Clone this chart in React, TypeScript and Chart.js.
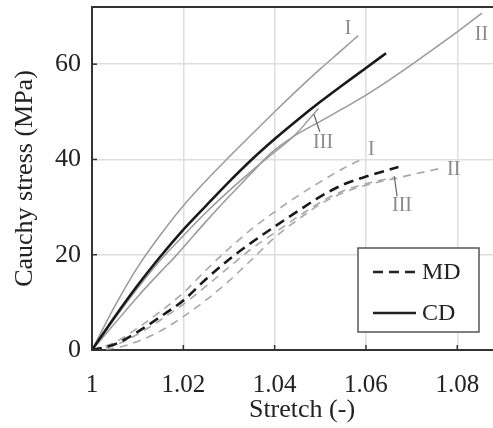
import React, { useEffect, useRef } from "react";
import { Chart, registerables } from "chart.js";

Chart.register(...registerables);

// ---- data (stretch, Cauchy stress MPa) ----
const cdMean = [[1,0],[1.005,7.0],[1.01,13.6],[1.0153,20],[1.0193,24.5],[1.025,30.3],[1.03,35.3],[1.035,40.0],[1.04,44.3],[1.045,48.3],[1.05,52.1],[1.0543,55.2],[1.06,59.2],[1.0644,62.3]];
const cdI = [[1,0],[1.005,9.2],[1.01,17.4],[1.015,24.2],[1.02,30.3],[1.025,35.6],[1.03,40.5],[1.035,45.3],[1.04,50.0],[1.045,54.6],[1.05,59.0],[1.055,63.2],[1.0583,66.0]];
const cdII = [[1,0],[1.005,5.6],[1.01,11.2],[1.015,16.4],[1.0182,19.6],[1.025,27.0],[1.03,32.2],[1.035,37.2],[1.039,41.2],[1.0441,44.8],[1.05,48.0],[1.055,50.7],[1.06,53.5],[1.065,56.6],[1.07,59.9],[1.075,63.3],[1.08,66.8],[1.0854,70.7]];
const cdIII = [[1,0],[1.005,6.6],[1.01,13.0],[1.015,18.9],[1.02,24.0],[1.025,28.9],[1.03,33.4],[1.035,37.6],[1.039,40.8],[1.0441,44.8],[1.0496,50.7]];
const mdMean = [[1,0],[1.005,1.2],[1.01,3.8],[1.015,7.0],[1.02,10.4],[1.025,14.9],[1.03,19.0],[1.035,22.6],[1.04,25.9],[1.045,29.1],[1.05,32.2],[1.055,34.7],[1.06,36.4],[1.0671,38.4]];
const mdI = [[1,0],[1.005,1.6],[1.01,4.6],[1.015,8.1],[1.02,12.0],[1.025,16.8],[1.03,21.3],[1.035,25.4],[1.04,29.0],[1.045,32.3],[1.05,35.3],[1.055,38.1],[1.0594,40.2]];
const mdII = [[1,0],[1.005,0.4],[1.01,1.8],[1.015,4.0],[1.02,7.0],[1.025,10.5],[1.03,14.5],[1.035,19.0],[1.04,23.6],[1.045,27.3],[1.05,30.6],[1.055,33.0],[1.06,34.6],[1.065,35.7],[1.07,36.8],[1.0762,38.1]];
const mdIII = [[1,0],[1.005,1.0],[1.01,3.3],[1.015,6.3],[1.02,9.6],[1.025,13.4],[1.03,17.4],[1.035,21.3],[1.04,24.6],[1.045,27.9],[1.05,31.0],[1.055,33.4],[1.06,34.9],[1.066,36.2]];

const xTicks = [1, 1.02, 1.04, 1.06, 1.08];
const yTicks = [0, 20, 40, 60];
const xMin = 1;
const xMax = 1.0922;
const yMin = 0;
const yMax = 72;

const xTitle = "Stretch (-)";
const yTitle = "Cauchy stress (MPa)";
const legendItems = [
  { label: "MD", dashed: true },
  { label: "CD", dashed: false },
];
// curve labels (data coordinates)
const curveLabels = [
  { text: "I", x: 1.0561, y: 67.5 },
  { text: "II", x: 1.0853, y: 66.2 },
  { text: "III", x: 1.0506, y: 43.5 },
  { text: "I", x: 1.0612, y: 42.1 },
  { text: "II", x: 1.0792, y: 37.9 },
  { text: "III", x: 1.0679, y: 30.2 },
];
const leaderLines = [
  [[1.0486, 49.5], [1.0499, 45.8]],
  [[1.0662, 36.5], [1.0668, 32.3]],
];

const FONT = "'Liberation Serif', 'Times New Roman', serif";
const DARK = "#222";
const GRAY = "#9a9a9a";

const toPts = (a: number[][]) => a.map(([x, y]) => ({ x, y }));

const overlayPlugin = {
  id: "overlay",
  afterDraw(chart: any) {
    const { ctx, chartArea: ca, scales } = chart;
    const xs = scales.x;
    const ys = scales.y;
    ctx.save();
    // top border
    ctx.strokeStyle = "#333";
    ctx.lineWidth = 2;
    ctx.beginPath();
    ctx.moveTo(ca.left - 1, ca.top);
    ctx.lineTo(ca.right, ca.top);
    ctx.stroke();
    // inward tick marks
    ctx.lineWidth = 1.5;
    xTicks.forEach((v) => {
      const px = xs.getPixelForValue(v);
      ctx.beginPath();
      ctx.moveTo(px, ca.bottom);
      ctx.lineTo(px, ca.bottom - 5);
      ctx.stroke();
    });
    yTicks.forEach((v) => {
      const py = ys.getPixelForValue(v);
      ctx.beginPath();
      ctx.moveTo(ca.left, py);
      ctx.lineTo(ca.left + 5, py);
      ctx.stroke();
    });
    // curve labels
    ctx.fillStyle = "#8a8a8a";
    ctx.font = `20px ${FONT}`;
    ctx.textAlign = "center";
    ctx.textBaseline = "middle";
    curveLabels.forEach((l) => {
      ctx.fillText(l.text, xs.getPixelForValue(l.x), ys.getPixelForValue(l.y));
    });
    ctx.strokeStyle = "#666";
    ctx.lineWidth = 1.2;
    leaderLines.forEach(([a, b]) => {
      ctx.beginPath();
      ctx.moveTo(xs.getPixelForValue(a[0]), ys.getPixelForValue(a[1]));
      ctx.lineTo(xs.getPixelForValue(b[0]), ys.getPixelForValue(b[1]));
      ctx.stroke();
    });
    // legend box
    const lx = ca.left + 266;
    const ly = ca.top + 241;
    const lw = 121;
    const lh = 84;
    ctx.fillStyle = "#fff";
    ctx.fillRect(lx, ly, lw, lh);
    ctx.strokeStyle = "#555";
    ctx.lineWidth = 1.5;
    ctx.strokeRect(lx, ly, lw, lh);
    ctx.font = `24px ${FONT}`;
    ctx.textAlign = "left";
    ctx.textBaseline = "middle";
    legendItems.forEach((it, i) => {
      const cy = ly + 24 + i * 41;
      ctx.strokeStyle = DARK;
      ctx.lineWidth = 2.5;
      ctx.setLineDash(it.dashed ? [10, 6] : []);
      ctx.beginPath();
      ctx.moveTo(lx + 15, cy);
      ctx.lineTo(lx + 58, cy);
      ctx.stroke();
      ctx.setLineDash([]);
      ctx.fillStyle = DARK;
      ctx.fillText(it.label, lx + 64, cy + 1);
    });
    // axis titles
    ctx.fillStyle = DARK;
    ctx.font = `26px ${FONT}`;
    ctx.textAlign = "center";
    ctx.textBaseline = "middle";
    ctx.fillText(xTitle, 302, 410);
    ctx.translate(25, (ca.top + ca.bottom) / 2);
    ctx.rotate(-Math.PI / 2);
    ctx.fillText(yTitle, 0, 0);
    ctx.restore();
  },
};

export default function App() {
  const ref = useRef<HTMLCanvasElement | null>(null);
  useEffect(() => {
    if (!ref.current) return;
    const solid = (data: number[][], color: string, w: number) => ({
      data: toPts(data),
      borderColor: color,
      borderWidth: w,
      pointRadius: 0,
      fill: false,
      cubicInterpolationMode: "monotone" as const,
    });
    const dashed = (data: number[][], color: string, w: number, dash: number[]) => ({
      ...solid(data, color, w),
      borderDash: dash,
    });
    const chart = new Chart(ref.current, {
      type: "line",
      data: {
        datasets: [
          solid(cdMean, "#1a1a1a", 2.6),
          dashed(mdMean, "#1a1a1a", 2.6, [10, 6]),
          solid(cdI, GRAY, 1.5),
          solid(cdII, GRAY, 1.5),
          solid(cdIII, GRAY, 1.5),
          dashed(mdI, "#a8a8a8", 1.6, [8, 6]),
          dashed(mdII, "#a8a8a8", 1.6, [8, 6]),
          dashed(mdIII, "#a8a8a8", 1.6, [8, 6]),
        ],
      },
      options: {
        animation: false,
        responsive: true,
        maintainAspectRatio: false,
        devicePixelRatio: 1,
        layout: { padding: { top: 7, right: 0, left: 0, bottom: 0 } },
        plugins: { legend: { display: false }, tooltip: { enabled: false } },
        scales: {
          x: {
            type: "linear",
            min: xMin,
            max: xMax,
            afterBuildTicks: (s: any) => {
              s.ticks = xTicks.map((v) => ({ value: v }));
            },
            afterFit: (s: any) => {
              s.height = 78;
              s.paddingLeft = 0;
              s.paddingRight = 0;
              s.paddingTop = 0;
              s.paddingBottom = 0;
            },
            ticks: {
              padding: 20,
              color: DARK,
              font: { family: FONT, size: 25 },
              callback: (v: any) => (Number(v) === 1 ? "1" : Number(v).toFixed(2)),
            },
            grid: { color: "#dedede", lineWidth: 1.5, drawTicks: false },
            border: { color: "#333", width: 2 },
          },
          y: {
            type: "linear",
            min: yMin,
            max: yMax,
            afterBuildTicks: (s: any) => {
              s.ticks = yTicks.map((v) => ({ value: v }));
            },
            afterFit: (s: any) => {
              s.width = 92;
              s.paddingLeft = 0;
              s.paddingRight = 0;
              s.paddingTop = 0;
              s.paddingBottom = 0;
            },
            ticks: {
              padding: 11,
              color: DARK,
              font: { family: FONT, size: 26 },
            },
            grid: { color: "#dedede", lineWidth: 1.5, drawTicks: false },
            border: { color: "#333", width: 2 },
          },
        },
      },
      plugins: [overlayPlugin],
    });
    return () => chart.destroy();
  }, []);
  return (
    <div style={{ position: "fixed", left: 0, top: 0, width: 493, height: 428, overflow: "hidden", background: "#fff" }}>
      <div style={{ width: 513, height: 428, position: "relative" }}>
        <canvas ref={ref} />
      </div>
    </div>
  );
}
